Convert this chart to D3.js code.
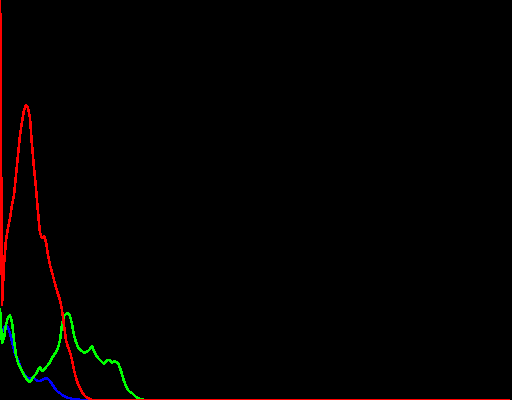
<!DOCTYPE html>
<html>
<head>
<meta charset="utf-8">
<script src="https://cdn.jsdelivr.net/npm/d3@7"></script>
<style>
  html, body { margin: 0; padding: 0; background: #000; overflow: hidden; }
  svg { display: block; }
</style>
</head>
<body>
<script>
// Histogram bin values (normalised 0..400), bins 0.. ; remaining bins are 0
const binCount = 256;
const blueValues = [65,68,72,75,72,67,58,50,44,40,34,29,26,23,22,21,22,22,20,19,19,20,21,22,21,19,16,13,10,8,7,5,4,3,2,2,1,1,1,1,0];
const greenValues = [92,57,62,75,83,85,78,60,45,37,33,29,25,22,19,18,21,24,26,30,33,29,30,33,35,38,42,45,48,52,60,75,84,86,87,84,76,65,58,53,50,49,47,48,49,51,54,49,45,42,40,38,36,39,40,40,37,39,38,37,32,26,19,14,10,8,7,5,3,2,1,1,0];
const redValues = [420,95,135,160,172,182,195,205,225,245,265,278,290,295,292,282,255,232,212,188,167,162,164,158,145,135,128,120,113,106,100,90,75,60,53,48,40,30,22,16,12,8,5,3,2,1,0];

function pad(arr) {
  const out = arr.slice();
  while (out.length < binCount) out.push(0);
  return out;
}

const W = 512, H = 400;
const svg = d3.select("body").append("svg")
  .attr("width", W).attr("height", H)
  .style("background", "#000");

const x = d3.scaleLinear().domain([0, binCount]).range([0, W]);
const y = d3.scaleLinear().domain([0, H]).range([H, 0]);

const line = d3.line()
  .x((d, i) => x(i))
  .y(d => y(d));

const series = [
  { values: pad(blueValues), color: "#0000ff" },
  { values: pad(greenValues), color: "#00ff00" },
  { values: pad(redValues), color: "#ff0000" }
];

svg.selectAll("path.hist")
  .data(series)
  .enter().append("path")
  .attr("class", "hist")
  .attr("d", d => line(d.values))
  .attr("fill", "none")
  .attr("stroke", d => d.color)
  .attr("stroke-width", 2.6)
  .attr("stroke-linejoin", "round")
  .attr("shape-rendering", "crispEdges");
</script>
</body>
</html>
